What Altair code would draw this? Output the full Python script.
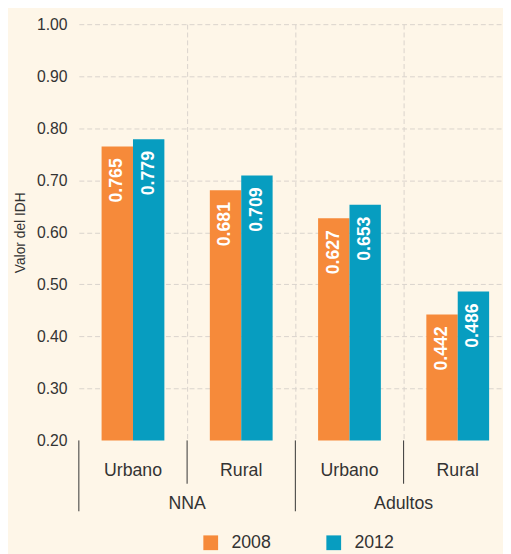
import altair as alt
import pandas as pd

groups = ["NNA", "NNA", "Adultos", "Adultos"]
areas = ["Urbano", "Rural", "Urbano", "Rural"]
years = ["2008", "2012"]
v2008 = [0.765, 0.681, 0.627, 0.442]
v2012 = [0.779, 0.709, 0.653, 0.486]
y_ticks = [0.2, 0.3, 0.4, 0.5, 0.6, 0.7, 0.8, 0.9, 1.0]

ORANGE = "#f68a3a"
TEAL = "#079dc0"
BG = "#fef6e8"
TXT = "#333333"
GRID = "#d9d3cc"
FONT = "Liberation Sans"

rows = []
for i, (g, a) in enumerate(zip(groups, areas)):
    for yr, vals in zip(years, [v2008, v2012]):
        rows.append({"idx": i, "group": g, "area": a, "year": yr, "value": vals[i]})
df = pd.DataFrame(rows)

cats = pd.DataFrame({"idx": list(range(len(areas))), "area": areas, "group": groups})
cats["xc"] = cats["idx"] + 0.5
cats["long"] = [i == 0 or groups[i] != groups[i - 1] for i in range(len(groups))]
seps_long = cats[cats["long"]][["idx"]]
seps_short = cats[~cats["long"]][["idx"]]
grp = cats.groupby("group", sort=False)["idx"].agg(["min", "max"]).reset_index()
grp["xc"] = (grp["min"] + grp["max"] + 1) / 2

W, H = 431, 423
xscale = alt.Scale(domain=[0, W / 110], nice=False, zero=False)
yscale = alt.Scale(domain=[0.2, 1.0], nice=False, zero=False)

bars = (
    alt.Chart(df)
    .transform_calculate(
        x0="datum.idx + 0.5 + (datum.year == '2008' ? -0.29 : 0)",
        x1="datum.idx + 0.5 + (datum.year == '2008' ? 0 : 0.29)",
    )
    .mark_bar()
    .encode(
        x=alt.X(
            "x0:Q",
            scale=xscale,
            axis=alt.Axis(
                values=[1, 2, 3], grid=True, gridDash=[5, 3], gridColor=GRID,
                labels=False, ticks=False, domain=False, title=None,
            ),
        ),
        x2="x1:Q",
        y=alt.Y(
            "value:Q",
            scale=yscale,
            axis=alt.Axis(
                values=y_ticks, format=".2f", grid=True, gridDash=[5, 3], gridColor=GRID,
                gridOpacity={"condition": {"test": "datum.value < 0.25", "value": 0}, "value": 1},
                domain=False, ticks=False,
                labelPadding=12, labelFontSize=16, labelColor=TXT, title="Valor del IDH",
                titleFontSize=14, titleFontWeight="normal", titleColor=TXT, titlePadding=9,
            ),
        ),
        y2=alt.datum(0.2),
        color=alt.Color(
            "year:N",
            scale=alt.Scale(domain=years, range=[ORANGE, TEAL]),
            legend=alt.Legend(
                orient="none", legendX=125, legendY=518, direction="horizontal", title=None,
                symbolType="square", symbolSize=225, symbolStrokeWidth=0, symbolOpacity=1,
                labelFontSize=18, labelColor=TXT, labelOffset=12, columnPadding=54, padding=0,
                labelFont=FONT,
            ),
        ),
    )
)

labels = (
    alt.Chart(df)
    .transform_calculate(xm="datum.idx + 0.5 + (datum.year == '2008' ? -0.145 : 0.145)")
    .mark_text(angle=270, align="right", baseline="middle", dx=-12, color="white",
               fontWeight="bold", fontSize=18, font=FONT)
    .encode(
        x=alt.X("xm:Q", scale=xscale),
        y=alt.Y("value:Q", scale=yscale),
        text=alt.Text("value:Q", format=".3f"),
    )
)

rule_long = alt.Chart(seps_long).mark_rule(color=TXT, strokeWidth=1).encode(
    x=alt.X("idx:Q", scale=xscale), y=alt.value(H), y2=alt.value(H + 72)
)
rule_short = alt.Chart(seps_short).mark_rule(color=TXT, strokeWidth=1).encode(
    x=alt.X("idx:Q", scale=xscale), y=alt.value(H), y2=alt.value(H + 44)
)
sub_text = alt.Chart(cats).mark_text(fontSize=18, color=TXT, font=FONT, baseline="middle").encode(
    x=alt.X("xc:Q", scale=xscale), y=alt.value(H + 31), text="area:N"
)
grp_text = alt.Chart(grp).mark_text(fontSize=18, color=TXT, font=FONT, baseline="middle").encode(
    x=alt.X("xc:Q", scale=xscale), y=alt.value(H + 65), text="group:N"
)

chart = (
    alt.layer(bars, labels, rule_long, rule_short, sub_text, grp_text)
    .properties(
        width=W, height=H,
        autosize=alt.AutoSizeParams(type="none"),
        padding={"left": 72, "top": 12, "right": 0, "bottom": 111},
        background=BG,
    )
    .configure_view(stroke=None)
    .configure_axis(labelFont=FONT, titleFont=FONT)
)

chart.save("out.html", embed_options={"renderer": "svg", "actions": False})
